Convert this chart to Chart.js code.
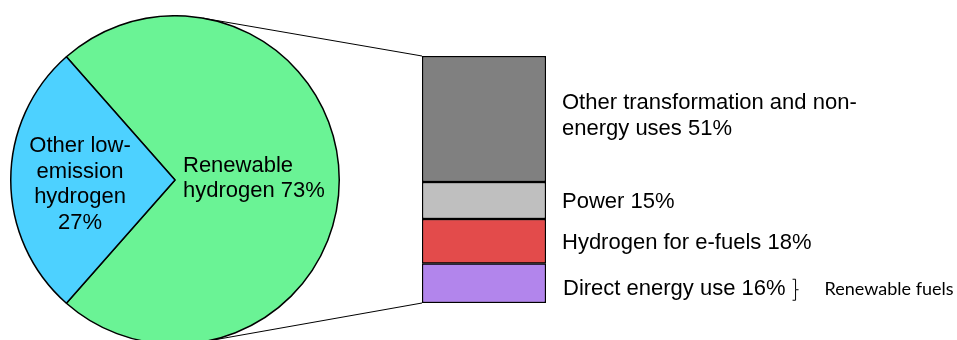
<!DOCTYPE html>
<html>
<head>
<meta charset="utf-8">
<script src="https://cdn.jsdelivr.net/npm/chart.js@4.4.1/dist/chart.umd.min.js"></script>
<style>
  html, body { margin: 0; padding: 0; background: #ffffff; overflow: hidden; }
  #wrap { position: relative; width: 957px; height: 340px; overflow: hidden; }
  #pie { position: absolute; left: 10px; top: 15px; }
  #bar { position: absolute; left: 0; top: 0; }
</style>
</head>
<body>
<div id="wrap">
  <canvas id="pie" width="330" height="330"></canvas>
  <canvas id="bar" width="957" height="340"></canvas>
</div>
<script>
// ---- Data ----
const pieCategories = ['Renewable hydrogen', 'Other low-emission hydrogen'];
const pieValues = [73, 27];
const pieColors = ['#6af395', '#4dd1ff'];
const pieLabelLines = [['Renewable', 'hydrogen 73%'], ['Other low-', 'emission', 'hydrogen', '27%']];

const barCategories = ['Direct energy use', 'Hydrogen for e-fuels', 'Power', 'Other transformation and non-energy uses'];
const barValues = [16, 18, 15, 51];
const barColors = ['#b285ec', '#e34b4b', '#bfbfbf', '#808080'];
const barLabelLines = [['Direct energy use 16%'], ['Hydrogen for e-fuels 18%'], ['Power 15%'], ['Other transformation and non-', 'energy uses 51%']];
const bracketLabel = 'Renewable fuels';

const MAIN_FONT = '22px "Liberation Sans", Arial, sans-serif';

// ---- Pie chart ----
const pieLabelPlugin = {
  id: 'pieLabels',
  afterDraw(chart) {
    const ctx = chart.ctx;
    const arc = chart.getDatasetMeta(0).data[0];
    const cx = arc.x, cy = arc.y;
    ctx.save();
    ctx.fillStyle = '#000';
    ctx.font = MAIN_FONT;
    ctx.textBaseline = 'alphabetic';
    // green label (left aligned, right of centre)
    ctx.textAlign = 'left';
    pieLabelLines[0].forEach((t, i) => ctx.fillText(t, cx + 8, cy - 8 + i * 25));
    // blue label (centred in the left wedge)
    ctx.textAlign = 'center';
    pieLabelLines[1].forEach((t, i) => ctx.fillText(t, cx - 95, cy - 28 + i * 25.6));
    ctx.restore();
  }
};

const pieChart = new Chart(document.getElementById('pie'), {
  type: 'pie',
  data: {
    labels: pieCategories,
    datasets: [{
      data: pieValues,
      backgroundColor: pieColors,
      borderColor: '#000000',
      borderWidth: 1.5,
      borderAlign: 'center'
    }]
  },
  options: {
    responsive: false,
    animation: false,
    rotation: -41.4,
    layout: { padding: 0 },
    plugins: { legend: { display: false }, tooltip: { enabled: false } }
  },
  plugins: [pieLabelPlugin]
});

// ---- Stacked bar ----
const pieCanvas = document.getElementById('pie');
function pieGeom() {
  const arc = pieChart.getDatasetMeta(0).data[0];
  return { x: arc.x + pieCanvas.offsetLeft, y: arc.y + pieCanvas.offsetTop, r: arc.outerRadius };
}
function tangentPoint(g, px, py, upper) {
  const dx = px - g.x, dy = py - g.y;
  const d = Math.hypot(dx, dy);
  const base = Math.atan2(dy, dx);
  const off = Math.acos(g.r / d);
  const a = upper ? base - off : base + off;
  return { x: g.x + g.r * Math.cos(a), y: g.y + g.r * Math.sin(a) };
}

const connectorPlugin = {
  id: 'connectors',
  beforeDatasetsDraw(chart) {
    const ctx = chart.ctx;
    const area = chart.chartArea;
    const first = chart.getDatasetMeta(0).data[0];
    const left = first.x - first.width / 2;
    const g = pieGeom();
    const top = chart.scales.y.getPixelForValue(100);
    const bottom = chart.scales.y.getPixelForValue(0);
    const t1 = tangentPoint(g, left, top, true);
    const t2 = tangentPoint(g, left, bottom, false);
    ctx.save();
    ctx.strokeStyle = '#000';
    ctx.lineWidth = 1;
    ctx.beginPath();
    ctx.moveTo(t1.x, t1.y); ctx.lineTo(left, top);
    ctx.moveTo(t2.x, t2.y); ctx.lineTo(left, bottom);
    ctx.stroke();
    ctx.restore();
  },
  afterDatasetsDraw(chart) {
    const ctx = chart.ctx;
    ctx.save();
    ctx.fillStyle = '#000';
    ctx.font = MAIN_FONT;
    ctx.textAlign = 'left';
    ctx.textBaseline = 'alphabetic';
    const adjust = [3.5, 0, 0, -5];
    let lastRight = 0, lastBase = 0;
    barLabelLines.forEach((lines, i) => {
      const el = chart.getDatasetMeta(i).data[0];
      const right = el.x + el.width / 2;
      const centre = (el.y + el.base) / 2 + adjust[i];
      const n = lines.length;
      lines.forEach((t, j) => {
        const base = centre + 8 + (j - (n - 1) / 2) * 26;
        ctx.fillText(t, right + 16 + (i === 0 ? 1 : 0), base);
      });
      if (i === 0) {
        lastRight = right + 17 + ctx.measureText(lines[0]).width;
        lastBase = centre + 8;
      }
    });
    // bracket
    const bx = lastRight + 7;
    const yTop = lastBase - 16, yBot = lastBase + 6, yMid = (yTop + yBot) / 2;
    ctx.strokeStyle = '#000';
    ctx.lineWidth = 1;
    ctx.beginPath();
    ctx.moveTo(bx, yTop + 0.5);
    ctx.lineTo(bx + 3, yTop + 0.5);
    ctx.lineTo(bx + 3, yMid);
    ctx.lineTo(bx + 6, yMid);
    ctx.moveTo(bx + 3, yMid);
    ctx.lineTo(bx + 3, yBot - 0.5);
    ctx.lineTo(bx, yBot - 0.5);
    ctx.stroke();
    ctx.font = '18px Lato, "Open Sans", sans-serif';
    ctx.fillText(bracketLabel, bx + 32, lastBase);
    ctx.restore();
  }
};

new Chart(document.getElementById('bar'), {
  type: 'bar',
  data: {
    labels: ['Renewable hydrogen'],
    datasets: barCategories.map((c, i) => ({
      label: c,
      data: [barValues[i]],
      backgroundColor: barColors[i],
      borderColor: '#000000',
      borderWidth: 1.5,
      borderSkipped: false,
      barPercentage: 1,
      categoryPercentage: 1
    }))
  },
  options: {
    responsive: false,
    animation: false,
    layout: { padding: { left: 422, right: 411, top: 56, bottom: 37 } },
    scales: {
      x: { stacked: true, display: false },
      y: { stacked: true, display: false, min: 0, max: 100 }
    },
    plugins: { legend: { display: false }, tooltip: { enabled: false } }
  },
  plugins: [connectorPlugin]
});
</script>
</body>
</html>
